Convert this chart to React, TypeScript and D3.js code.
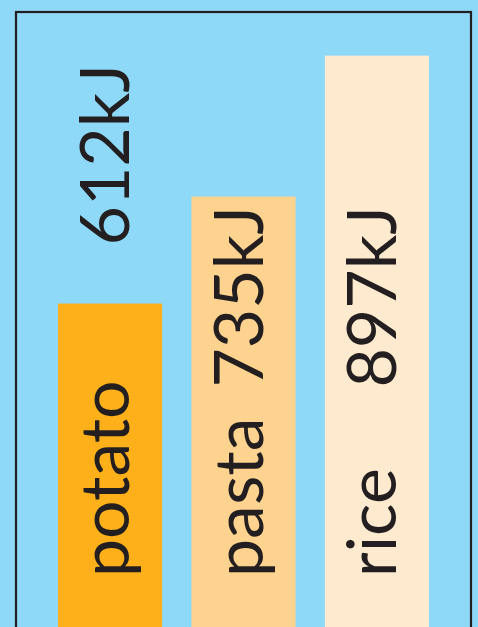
import React from 'react';
import * as d3 from 'd3';

const foods = ['potato', 'pasta', 'rice'];
const energy = [612, 735, 897];
const valueLabels = ['612kJ', '735kJ', '897kJ'];
const barColors = ['#fdb01a', '#fdd38f', '#feeacf'];

const W = 478;
const H = 627;
const ink = '#231f20';
const font = 'Lato, "Open Sans", sans-serif';
const fontSize = 68;

const App = () => {
  const x = d3.scaleBand()
    .domain(foods)
    .range([24, 463])
    .paddingInner(0.22)
    .paddingOuter(0.255);

  // picture is cropped at the bottom, so the scale is fitted to the visible tops
  const y = d3.scaleLinear().domain([600, 900]).range([314, 53]);

  const labelStart = 577; // category labels start near the bottom edge
  const valueEnd = 206;   // value labels inside tall bars end here

  return (
    <svg width={W} height={H} style={{ position: 'absolute', left: 0, top: 0, display: 'block' }}>
      <rect x={0} y={0} width={W} height={H} fill="#8ed8f8" />
      <rect x={16} y={12} width={455} height={700} fill="none" stroke={ink} strokeWidth={2.2} />
      {foods.map((f, i) => {
        const bx = x(f)!;
        const cx = bx + x.bandwidth() / 2;
        const top = y(energy[i]);
        const fitsInside = top < valueEnd;
        return (
          <g key={f}>
            <rect x={bx} y={top} width={x.bandwidth()} height={H - top + 10} fill={barColors[i]} />
            <text
              transform={`translate(${cx},${labelStart}) rotate(-90)`}
              dy="0.28em"
              fontFamily={font}
              fontSize={fontSize}
              fill={ink}
            >
              {f}
            </text>
            <text
              transform={fitsInside
                ? `translate(${cx},${valueEnd}) rotate(-90)`
                : `translate(${cx},${top - 58}) rotate(-90)`}
              dy="0.28em"
              textAnchor={fitsInside ? 'end' : 'start'}
              fontFamily={font}
              fontSize={fontSize}
              fill={ink}
            >
              {valueLabels[i]}
            </text>
          </g>
        );
      })}
    </svg>
  );
};

export default App;
